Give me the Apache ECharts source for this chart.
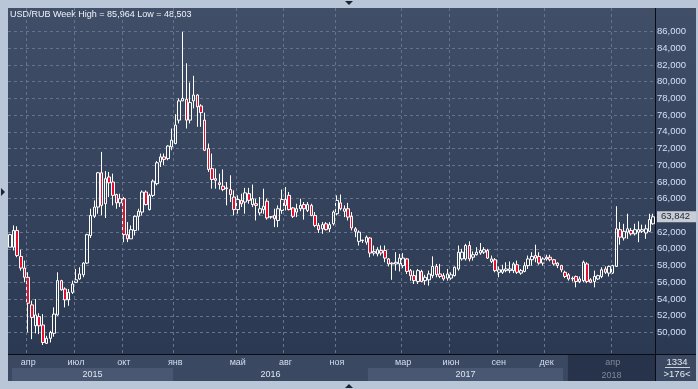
<!DOCTYPE html>
<html><head><meta charset="utf-8">
<script src="https://cdn.jsdelivr.net/npm/echarts@6/dist/echarts.min.js"></script>
<style>html,body{margin:0;padding:0;background:#b9c6d7;}#c{width:698px;height:389px;}</style>
</head><body><div id="c"></div>
<script>
// Weekly USD/RUB candles (open, close, low, high)
const openV = [
60.2,60.2,62.2,59.1,57.7,56.6,53.3,50.8,51.9,50.9,
48.7,49.3,49.9,52.1,56.2,55.2,53.9,54.8,56.0,56.4,
56.9,58.3,61.6,63.9,65.0,69.1,65.4,68.6,68.0,66.5,
65.5,66.0,61.7,61.2,62.2,63.9,64.4,66.8,64.7,66.4,
67.8,70.4,71.0,70.8,72.2,72.6,75.4,77.7,77.9,75.4,
77.7,78.4,77.1,75.4,72.0,69.6,68.4,67.9,67.5,67.3,
67.1,66.2,64.7,65.8,65.6,66.6,65.3,65.4,64.3,64.7,
65.7,63.8,64.0,63.4,64.6,65.9,66.4,64.9,64.4,64.8,
65.3,64.6,65.2,64.0,62.8,62.4,63.0,62.4,63.0,64.2,
65.5,64.5,64.8,63.9,62.4,60.9,61.0,60.8,61.3,59.5,
59.4,59.8,59.8,58.8,58.3,58.2,58.2,58.0,58.8,57.4,
56.8,56.1,57.3,56.2,56.3,56.8,57.9,57.0,56.8,56.5,
56.5,56.8,57.6,58.8,58.8,60.4,59.0,59.3,59.5,59.6,
59.8,58.5,58.7,57.2,57.2,57.4,57.4,57.4,58.1,57.1,
57.3,58.0,58.7,59.2,59.1,58.3,59.0,59.0,58.7,58.3,
58.0,57.2,56.9,56.5,56.7,56.1,56.2,58.2,56.3,56.1,
56.4,56.7,57.6,57.1,57.1,57.9,62.3,61.3,62.0,62.2,
61.8,62.0,62.1,61.9,62.1,63.0];
const closeV = [
61.7,62.2,59.2,57.7,56.6,53.5,51.8,52.1,50.8,48.8,
49.3,50.0,52.2,56.2,55.1,53.9,54.8,55.8,56.3,57.0,
58.3,61.7,64.0,65.0,69.1,65.2,68.4,67.9,66.4,65.5,
66.0,61.7,61.2,62.3,63.9,64.5,66.8,65.3,66.4,68.1,
70.3,71.0,70.7,72.3,73.0,74.8,77.7,78.0,75.4,77.5,
78.4,77.0,76.3,71.8,69.5,68.3,68.2,67.7,67.1,67.2,
66.5,64.7,65.9,65.4,66.7,65.8,66.0,65.2,64.8,65.1,
63.7,63.85,63.6,64.8,65.9,65.2,64.7,63.9,64.8,65.2,
64.8,65.3,64.0,62.8,62.3,62.9,62.3,62.9,64.4,65.8,
64.8,64.8,63.8,62.5,62.1,62.0,61.05,61.4,59.5,59.7,
59.9,59.5,58.9,58.2,58.2,58.4,58.9,58.9,57.3,56.8,
56.2,57.4,56.1,56.6,57.0,57.9,56.9,56.7,56.4,57.0,
56.9,57.8,59.6,59.6,60.4,58.8,59.3,59.6,59.8,59.9,
58.9,58.8,57.4,57.5,57.5,57.6,57.6,58.2,57.2,57.4,
58.0,58.8,59.1,58.9,58.3,58.8,58.8,58.7,58.2,58.0,
57.5,56.7,56.4,56.4,56.1,56.4,58.4,56.1,56.0,56.7,
56.8,57.5,57.2,57.9,58.0,62.4,61.4,62.1,62.4,61.8,
62.3,62.3,62.3,62.4,63.5,63.842];
const lowV = [
60.2,59.8,59.0,57.4,56.0,50.0,49.2,49.9,49.8,48.503,
48.62,48.8,49.5,52.0,55.0,53.0,53.2,54.6,55.9,56.3,
56.6,58.2,61.3,63.7,64.2,64.0,63.7,66.2,65.2,64.8,
65.0,60.8,60.8,61.2,61.6,62.2,64.0,65.2,64.6,66.2,
67.6,69.8,70.0,70.6,71.8,72.5,75.0,77.7,74.4,75.0,
76.8,74.6,74.6,71.7,69.2,67.2,67.2,67.1,66.9,65.2,
65.6,64.0,64.2,65.0,64.2,65.4,65.0,63.4,64.0,64.2,
63.5,63.6,62.6,62.6,64.2,64.6,64.6,63.7,63.8,64.5,
63.5,64.4,63.9,62.6,61.9,61.8,62.2,62.0,62.8,64.0,
64.6,63.8,63.4,62.2,61.4,60.4,60.7,60.5,59.0,59.2,
59.1,59.2,58.4,57.9,56.3,57.4,57.3,57.7,57.0,56.2,
55.8,55.8,56.0,55.7,55.6,56.5,56.6,56.5,56.2,56.2,
56.3,56.7,57.4,58.6,58.6,58.5,58.6,59.2,59.3,59.4,
58.8,58.3,57.2,56.6,57.0,57.2,57.1,57.1,57.0,56.9,
57.2,57.6,58.0,58.4,58.1,58.0,58.6,58.5,58.0,57.7,
57.2,56.5,56.2,56.1,55.4,55.9,56.0,55.9,55.9,55.4,
56.3,56.5,57.0,56.7,57.0,57.9,60.5,61.0,61.2,61.6,
61.6,60.8,61.9,61.2,62.0,62.9];
const highV = [
61.8,62.8,62.7,59.9,58.6,57.2,53.8,54.0,52.3,52.2,
49.6,50.2,53.0,57.2,56.3,55.4,55.2,56.2,57.6,57.8,
58.4,61.8,64.8,65.8,69.2,71.6,69.3,69.2,69.0,66.6,
66.6,66.2,63.2,62.8,64.0,64.8,67.0,67.0,66.6,68.3,
70.5,71.4,71.4,72.4,74.4,76.1,78.0,85.964,82.2,79.9,
80.7,78.5,77.3,76.3,72.6,71.4,69.6,69.0,69.5,68.0,
68.8,67.0,66.4,66.6,67.3,67.3,67.7,66.0,66.2,67.2,
66.0,63.9,64.8,65.2,67.1,67.4,66.8,65.0,65.4,66.0,
65.6,65.6,65.4,64.4,63.1,63.2,63.2,63.2,64.6,66.4,
66.5,65.2,65.5,64.4,62.6,62.2,61.1,61.6,61.4,60.4,
60.2,60.4,60.4,58.9,58.4,59.6,59.4,59.5,58.9,57.6,
57.4,57.6,57.5,56.9,57.4,59.1,58.2,58.2,57.1,57.6,
57.2,57.9,60.4,60.0,60.6,60.9,59.7,60.2,60.7,60.2,
60.0,59.2,58.9,57.9,58.1,58.4,58.5,58.4,58.6,57.6,
58.4,59.2,59.6,60.5,59.6,59.0,59.3,59.3,58.8,58.4,
58.1,57.4,57.1,56.7,56.8,56.7,58.6,58.4,56.5,57.4,
56.9,57.8,57.9,58.0,58.1,65.1,63.2,63.0,64.2,62.5,
63.0,63.3,62.9,62.9,64.2,64.2];

// Week categories (Monday of each week)
const firstWeek = Date.UTC(2015, 1, 23);
const weeks = openV.map((_, i) => new Date(firstWeek + i * 7 * 864e5).toISOString().slice(0, 10));

// Month tick labels (category index -> label)
const monthTickIdx  = [5, 18, 31, 45, 62, 75, 89, 107, 120, 133, 146, 164];
const monthTickText = ['апр','июл','окт','янв','май','авг','ноя','мар','июн','сен','дек','апр'];
// Year bands along the axis (in week-index units)
const yearText = ['2015', '2016', '2017', '2018'];
const yearFrom = [0.6, 44.4, 97.4, 151.8];
const yearTo   = [44.4, 97.4, 150.5, 175.5];
const counterText = '1334';

const FONT = '"Liberation Sans", Arial, sans-serif';
const fmt = v => v.toFixed(3).replace('.', ',');
const lastClose = closeV[closeV.length - 1];
const tickMap = new Map(monthTickIdx.map((k, j) => [k, monthTickText[j]]));
const candles = openV.map((o, i) => [o, closeV[i], lowV[i], highV[i]]);
const n = openV.length;

const yearBandColor = ['#4a5772', 'rgba(0,0,0,0)', '#4a5772', '#27334b'];
const yearTextColor = ['#dfe6f0', '#dfe6f0', '#dfe6f0', '#7d889b'];
const gridLineColor = '#65738d';

const chart = echarts.init(document.getElementById('c'), null, {renderer: 'canvas'});
chart.setOption({
  animation: false,
  backgroundColor: '#b9c6d7',
  title: {
    text: 'USD/RUB Week High = ' + fmt(Math.max(...highV)) + ' Low = ' + fmt(Math.min(...lowV)),
    left: 10, top: 10, padding: 0,
    textStyle: {color: '#eef3fa', fontSize: 9, fontWeight: 'normal', fontFamily: FONT}
  },
  grid: [
    {left: 8, right: 43, top: 31.5, bottom: 39.8},
    {left: 8, right: 43, top: 8, bottom: 35},
    {left: 8, right: 43, top: 355, bottom: 8}
  ],
  xAxis: [
    {type: 'category', data: weeks, gridIndex: 0, show: false},
    {type: 'category', data: weeks, gridIndex: 1, z: 10,
      axisLine: {show: false}, axisTick: {show: false},
      axisLabel: {
        interval: (i) => tickMap.has(i),
        formatter: (v, i) => (i >= yearFrom[3] ? '{d|' + tickMap.get(i) + '}' : tickMap.get(i)),
        color: '#d3deee', fontSize: 9, fontFamily: FONT, margin: 4,
        rich: {d: {color: '#7d889b', fontSize: 9, fontFamily: FONT}}
      },
      splitLine: {show: true, interval: (i) => tickMap.has(i),
        lineStyle: {color: gridLineColor, type: [3, 3], width: 1}}
    },
    {type: 'value', gridIndex: 2, min: -0.5, max: n - 0.5, show: false}
  ],
  yAxis: [
    {type: 'value', gridIndex: 0, position: 'right', min: 48, max: 86, interval: 2,
      axisLine: {show: false}, axisTick: {show: false},
      axisLabel: {showMinLabel: false, color: '#cfe0f6', fontSize: 9.5, fontFamily: FONT, margin: 2, formatter: fmt},
      splitLine: {show: true, showMinLine: false, lineStyle: {color: gridLineColor, type: [3, 3], width: 1}}
    },
    {type: 'value', gridIndex: 1, show: false},
    {type: 'value', gridIndex: 2, min: 0, max: 2, show: false}
  ],
  series: [
    {type: 'candlestick', xAxisIndex: 0, yAxisIndex: 0, data: candles, barWidth: 3,
      itemStyle: {color: 'rgba(0,0,0,0)', color0: '#e4102e', borderColor: '#ffffff', borderColor0: '#ffffff', borderWidth: 1},
      markLine: {silent: true, symbol: 'none', data: [{yAxis: lastClose}],
        lineStyle: {color: 'rgba(0,0,0,0)', width: 0},
        label: {position: 'end', distance: 2, formatter: fmt(lastClose), backgroundColor: '#c8cdd5',
          color: '#1b2431', fontSize: 9.5, fontFamily: FONT, padding: [1, 6, 0, 4]}}
    },
    {type: 'scatter', xAxisIndex: 2, yAxisIndex: 2, data: [], silent: true, z: 1,
      markArea: {silent: true,
        data: yearText.map((t, j) => [
          {name: t, xAxis: yearFrom[j], yAxis: 0, itemStyle: {color: yearBandColor[j]},
            label: {show: true, formatter: t, position: j === 3 ? 'insideBottom' : 'inside', distance: 1,
              color: yearTextColor[j], fontSize: 9, fontFamily: FONT}},
          {xAxis: yearTo[j], yAxis: j === 3 ? 2 : 1}
        ])
      }
    }
  ],
  graphic: [
    {type: 'rect', z: -10, silent: true, shape: {x: 8, y: 8, width: 688, height: 373},
      style: {fill: new echarts.graphic.LinearGradient(0, 0, 0, 1, [{offset: 0, color: '#414e68'}, {offset: 1, color: '#2a3750'}])}},
    {type: 'rect', z: -9, silent: true, shape: {x: 8, y: 355, width: 688, height: 26}, style: {fill: '#3b4862'}},
    {type: 'line', z: 20, silent: true, shape: {x1: 8, y1: 354.5, x2: 696, y2: 354.5}, style: {stroke: '#080c14', lineWidth: 1}},
    {type: 'line', z: 20, silent: true, shape: {x1: 655.5, y1: 8, x2: 655.5, y2: 381}, style: {stroke: '#080c14', lineWidth: 1}},
    {type: 'text', z: 20, silent: true, x: 677, y: 362, style: {text: counterText, fill: '#e2e9f2', font: '9.5px ' + FONT, align: 'center', verticalAlign: 'middle'}},
    {type: 'line', z: 20, silent: true, shape: {x1: 665, y1: 367.5, x2: 690, y2: 367.5}, style: {stroke: '#c9d3df', lineWidth: 1}},
    {type: 'text', z: 20, silent: true, x: 677, y: 374.5, style: {text: '>' + n + '<', fill: '#e2e9f2', font: '9.5px ' + FONT, align: 'center', verticalAlign: 'middle'}},
    {type: 'polygon', z: 20, silent: true, shape: {points: [[345, 1], [353, 1], [349, 5]]}, style: {fill: '#1c2431'}},
    {type: 'polygon', z: 20, silent: true, shape: {points: [[345, 388], [353, 388], [349, 384]]}, style: {fill: '#1c2431'}},
    {type: 'polygon', z: 20, silent: true, shape: {points: [[1, 188], [1, 196], [5, 192]]}, style: {fill: '#1c2431'}}
  ]
});
</script></body></html>
